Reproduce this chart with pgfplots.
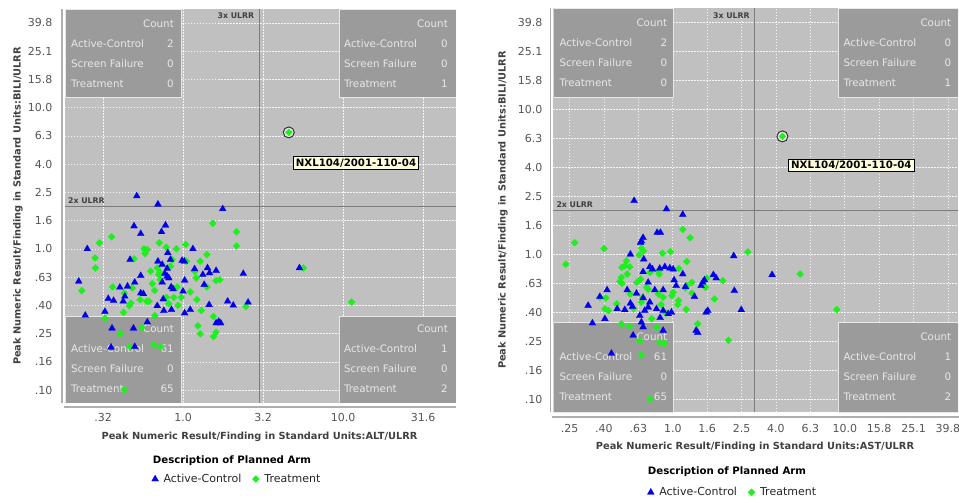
\documentclass[border=0pt]{standalone}
\usepackage{pgfplots}
\pgfplotsset{compat=1.18}
\usepackage{pgfplotstable}
\usepackage{fontspec}
\setmainfont{DejaVu Sans}
\definecolor{plotbg}{RGB}{192,192,192}
\definecolor{boxbg}{RGB}{155,155,155}
\definecolor{boxline}{RGB}{232,232,232}
\definecolor{acblue}{RGB}{0,0,235}
\definecolor{trgreen}{RGB}{30,240,30}
\definecolor{refl}{RGB}{125,125,125}
\definecolor{ticktext}{RGB}{85,85,85}
\definecolor{boxtext}{RGB}{232,232,232}
\definecolor{axl}{RGB}{175,175,175}
\definecolor{tipbg}{RGB}{255,255,222}

% ---------- data: left panel (ALT vs BILI) ----------
\pgfplotstableread{
x y
0.514 2.37
0.697 2.07
1.77 1.92
0.494 1.45
0.544 1.28
0.777 1.47
0.734 1.32
0.252 1.00
0.467 0.840
0.697 0.817
0.741 0.774
0.803 0.937
0.835 0.840
0.986 0.826
1.019 0.817
1.153 1.00
0.223 0.589
0.544 0.646
0.499 0.579
0.403 0.534
0.450 0.543
0.544 0.486
0.565 0.481
0.341 0.444
0.368 0.430
0.433 0.461
0.423 0.425
0.325 0.360
0.598 0.303
0.690 0.395
0.752 0.441
0.759 0.365
0.847 0.371
0.769 0.668
0.796 0.640
0.815 0.622
0.741 0.579
0.843 0.537
0.867 0.520
1.024 0.599
1.000 0.500
1.024 0.351
1.109 0.371
1.181 0.721
1.330 0.657
1.356 0.558
1.422 0.733
1.463 0.675
1.610 0.701
1.456 0.402
1.610 0.298
1.671 0.306
1.720 0.298
1.90 0.425
2.06 0.398
2.38 0.668
2.55 0.418
0.245 0.338
0.360 0.274
0.490 0.274
0.355 0.201
0.499 0.203
5.34 0.733
0.796 0.725
}\leftAC
\pgfplotstableread{
x y
0.300 1.103
0.358 1.217
0.282 0.863
0.2835 0.733
0.233 0.506
0.494 0.849
0.570 1.00
0.598 0.989
0.579 0.927
0.710 1.103
0.785 1.028
0.909 1.00
1.039 1.074
1.409 0.911
1.534 1.514
2.16 1.32
2.16 1.05
0.690 0.733
0.717 0.682
0.627 0.694
0.724 0.605
0.363 0.537
0.429 0.486
0.472 0.413
0.461 0.395
0.593 0.425
0.613 0.425
0.664 0.508
0.788 0.453
0.875 0.453
0.931 0.398
0.976 0.453
1.109 0.495
1.210 0.622
1.30 0.366
1.409 0.537
1.610 0.596
1.70 0.605
1.549 0.332
1.239 0.285
1.28 0.250
1.549 0.239
1.610 0.257
0.325 0.323
0.405 0.250
0.425 0.355
0.552 0.277
0.667 0.336
0.658 0.209
0.724 0.203
0.429 0.100
2.47 0.391
5.65 0.733
11.3 0.420
0.855 0.840
1.049 0.817
0.467 0.203
1.186 0.694
0.643 0.567
0.815 0.409
0.918 0.537
0.483 0.528
1.28 0.817
0.706 0.657
0.539 0.436
0.835 0.753
1.22 0.436
}\leftTR
% ---------- data: right panel (AST vs BILI) ----------
\pgfplotstableread{
x y
0.596 2.34
0.919 2.05
1.143 1.88
0.811 1.41
0.848 1.41
0.672 1.30
0.657 1.234
0.649 1.202
0.567 1.00
0.678 0.924
0.735 0.819
0.762 0.789
0.840 0.798
0.899 0.819
0.961 0.802
1.005 0.789
0.672 0.757
0.719 0.640
0.415 0.567
0.377 0.510
0.543 0.567
0.615 0.538
0.786 0.567
0.879 0.567
1.018 0.664
0.672 0.500
1.143 0.730
1.046 0.607
2.26 0.974
1.723 0.722
1.787 0.685
1.528 0.664
1.494 0.640
1.461 0.607
1.336 0.510
2.28 0.561
3.78 0.722
1.598 0.409
1.563 0.398
2.50 0.414
1.367 0.298
1.397 0.288
0.322 0.443
0.341 0.335
0.403 0.359
0.475 0.420
0.526 0.414
0.583 0.436
0.567 0.459
0.687 0.409
0.643 0.378
0.719 0.431
0.735 0.467
0.804 0.420
0.879 0.409
0.940 0.388
0.982 0.398
0.657 0.340
0.672 0.315
0.588 0.276
0.879 0.298
0.440 0.207
0.844 0.365
1.185 0.597
}\rightAC
\pgfplotstableread{
x y
0.269 1.202
0.399 1.094
0.239 0.854
0.657 1.099
0.637 0.989
0.871 1.016
0.969 1.043
0.538 0.900
0.526 0.832
0.562 0.819
0.543 0.730
0.503 0.692
0.492 0.650
0.507 0.630
0.649 0.674
0.833 0.730
0.719 0.575
0.377 0.505
0.408 0.500
1.005 0.546
0.879 0.505
1.143 1.483
1.261 1.30
2.73 1.037
1.206 0.891
1.084 0.798
1.577 0.685
1.953 0.657
1.206 0.607
1.185 0.585
1.295 0.538
1.549 0.591
1.746 0.492
5.50 0.730
1.195 0.416
1.069 0.450
1.397 0.331
2.107 0.255
0.403 0.420
0.503 0.331
0.562 0.318
0.657 0.201
0.735 0.100
0.840 0.248
0.899 0.242
0.643 0.252
8.98 0.416
0.855 0.450
0.915 0.392
0.755 0.359
0.667 0.505
0.655 0.467
0.591 0.420
0.706 0.591
0.825 0.532
0.987 0.518
1.079 0.479
0.565 0.532
0.472 0.455
0.505 0.811
0.675 1.054
0.825 0.769
0.738 0.749
1.29 0.640
0.807 0.315
0.618 0.640
0.423 0.409
}\rightTR

\tikzset{cbt/.style={font=\fontsize{10.3}{12}\selectfont, text=boxtext, inner sep=0pt}}

\newcommand{\cboxrows}[7]{%
  \node[cbt, anchor=base east] at ([xshift=#3pt,yshift=#4pt]#1) {Count};
  \node[cbt, anchor=base west] at ([xshift=#2pt,yshift=#4pt-20pt]#1) {Active-Control};
  \node[cbt, anchor=base east] at ([xshift=#3pt,yshift=#4pt-20pt]#1) {#5};
  \node[cbt, anchor=base west] at ([xshift=#2pt,yshift=#4pt-40pt]#1) {Screen Failure};
  \node[cbt, anchor=base east] at ([xshift=#3pt,yshift=#4pt-40pt]#1) {#6};
  \node[cbt, anchor=base west] at ([xshift=#2pt,yshift=#4pt-60pt]#1) {Treatment};
  \node[cbt, anchor=base east] at ([xshift=#3pt,yshift=#4pt-60pt]#1) {#7};
}

\pgfplotsset{
  mypanel/.style={
    scale only axis, anchor=south west,
    axis background/.style={fill=plotbg},
    axis line style={draw=none},
    major tick style={draw=none}, minor tick style={draw=none},
    grid=major,
    major grid style={draw=white!93!gray, dash pattern=on 1.5pt off 1.5pt, line width=0.6pt},
    ytick={0.1,0.158489,0.251189,0.398107,0.630957,1,1.584893,2.511886,3.981072,6.309573,10,15.848932,25.118864,39.810717},
    yticklabels={.10,.16,.25,.40,.63,1.0,1.6,2.5,4.0,6.3,10.0,15.8,25.1,39.8},
    ticklabel style={font=\fontsize{11}{13}\selectfont, text=ticktext},
    legend style={draw=none, fill=none, legend columns=2,
      font=\fontsize{11}{13}\selectfont, text=black!85,
      /tikz/every odd column/.append style={column sep=3pt},
      /tikz/every even column/.append style={column sep=9pt}},
    reverse legend,
    legend cell align=left,
  },
  acmark/.style={only marks, mark=triangle*, mark size=4pt, mark options={draw=acblue, fill=acblue, line width=0.2pt}},
  trmark/.style={only marks, mark=square*, mark size=2.5pt, mark options={rotate=45, draw=trgreen, fill=trgreen, line width=0.2pt}},
}

\begin{document}
\begin{tikzpicture}
\useasboundingbox (0,0) rectangle (959pt,500pt);

% ================= LEFT PANEL =================
\begin{axis}[xmode=log, ymode=log, mypanel,
  at={(65pt,97pt)}, width=391pt, height=394pt,
  xmin=0.183, xmax=50.8, ymin=0.081, ymax=50,
  xtick={0.316228,1,3.162278,10,31.622777},
  xticklabels={.32,1.0,3.2,10.0,31.6},
  yticklabel style={xshift=-9pt},
  xticklabel style={yshift=-7pt},
  legend style={at={(0.44,-0.193)}, anchor=center},
]
  \fill[boxbg, draw=boxline, line width=0.8pt] (rel axis cs:0,1) rectangle ([xshift=116pt,yshift=-88pt]rel axis cs:0,1);
  \fill[boxbg, draw=boxline, line width=0.8pt] (rel axis cs:1,1) rectangle ([xshift=-117pt,yshift=-88pt]rel axis cs:1,1);
  \fill[boxbg, draw=boxline, line width=0.8pt] (rel axis cs:0,0) rectangle ([xshift=116pt,yshift=87pt]rel axis cs:0,0);
  \fill[boxbg, draw=boxline, line width=0.8pt] (rel axis cs:1,0) rectangle ([xshift=-117pt,yshift=87pt]rel axis cs:1,0);
  \cboxrows{rel axis cs:0,1}{6}{109}{-18.5}{2}{0}{0}
  \cboxrows{rel axis cs:1,1}{-112}{-8}{-18.5}{0}{0}{1}
  \cboxrows{rel axis cs:0,0}{6}{109}{70.5}{61}{0}{65}
  \cboxrows{rel axis cs:1,0}{-112}{-8}{70.5}{1}{0}{2}
  \draw[refl, line width=1.2pt] (axis cs:3,0.081) -- (axis cs:3,50);
  \draw[refl, line width=1.2pt] (axis cs:0.183,2) -- (axis cs:50.8,2);
  \node[anchor=north east, font=\bfseries\fontsize{7.8}{9}\selectfont, text=black!75, inner sep=0pt] at ([xshift=-5pt,yshift=-4pt]axis cs:3,50) {3x ULRR};
  \node[anchor=south west, font=\bfseries\fontsize{7.8}{9}\selectfont, text=black!75, inner sep=0pt] at ([xshift=3pt,yshift=3pt]axis cs:0.183,2) {2x ULRR};
  \addplot[trmark] table {\leftTR};
  \addlegendentry{Treatment}
  \addplot[acmark] table {\leftAC};
  \addlegendentry{Active-Control}
  \addplot[forget plot, only marks, mark=*, mark size=5.5pt, mark options={fill=white!80!gray, draw=black!80, line width=1pt}] coordinates {(4.58,6.68)};
  \addplot[forget plot, trmark] coordinates {(4.58,6.68)};
  \node[draw=black, line width=0.8pt, fill=tipbg, font=\bfseries\fontsize{10.2}{12}\selectfont, inner xsep=2.5pt, inner ysep=2pt, anchor=center] at ([xshift=291pt,yshift=-154pt]rel axis cs:0,1) {NXL104/2001-110-04};
\end{axis}

% ================= RIGHT PANEL =================
\begin{axis}[xmode=log, ymode=log, mypanel,
  at={(553.3pt,87.7pt)}, width=405pt, height=404pt,
  xmin=0.202, xmax=45.7, ymin=0.0813, ymax=49.7,
  xtick={0.251189,0.398107,0.630957,1,1.584893,2.511886,3.981072,6.309573,10,15.848932,25.118864,39.810717},
  xticklabels={.25,.40,.63,1.0,1.6,2.5,4.0,6.3,10.0,15.8,25.1,39.8},
  yticklabel style={xshift=-7.5pt},
  xticklabel style={yshift=-9pt},
  legend style={at={(0.443,-0.198)}, anchor=center},
]
  \fill[boxbg, draw=boxline, line width=0.8pt] (rel axis cs:0,1) rectangle ([xshift=120pt,yshift=-89pt]rel axis cs:0,1);
  \fill[boxbg, draw=boxline, line width=0.8pt] (rel axis cs:1,1) rectangle ([xshift=-120pt,yshift=-89pt]rel axis cs:1,1);
  \fill[boxbg, draw=boxline, line width=0.8pt] (rel axis cs:0,0) rectangle ([xshift=120pt,yshift=90pt]rel axis cs:0,0);
  \fill[boxbg, draw=boxline, line width=0.8pt] (rel axis cs:1,0) rectangle ([xshift=-120pt,yshift=90pt]rel axis cs:1,0);
  \cboxrows{rel axis cs:0,1}{6}{114}{-18.5}{2}{0}{0}
  \cboxrows{rel axis cs:1,1}{-115}{-7}{-18.5}{0}{0}{1}
  \cboxrows{rel axis cs:0,0}{6}{114}{71.5}{61}{0}{65}
  \cboxrows{rel axis cs:1,0}{-115}{-7}{71.5}{1}{0}{2}
  \draw[refl, line width=1.2pt] (axis cs:3,0.0813) -- (axis cs:3,49.7);
  \draw[refl, line width=1.2pt] (axis cs:0.202,2) -- (axis cs:45.7,2);
  \node[anchor=north east, font=\bfseries\fontsize{7.8}{9}\selectfont, text=black!75, inner sep=0pt] at ([xshift=-5pt,yshift=-4pt]axis cs:3,49.7) {3x ULRR};
  \node[anchor=south west, font=\bfseries\fontsize{7.8}{9}\selectfont, text=black!75, inner sep=0pt] at ([xshift=3pt,yshift=3pt]axis cs:0.202,2) {2x ULRR};
  \addplot[trmark] table {\rightTR};
  \addlegendentry{Treatment}
  \addplot[acmark] table {\rightAC};
  \addlegendentry{Active-Control}
  \addplot[forget plot, only marks, mark=*, mark size=5.5pt, mark options={fill=white!80!gray, draw=black!80, line width=1pt}] coordinates {(4.34,6.5)};
  \addplot[forget plot, trmark] coordinates {(4.34,6.5)};
  \node[draw=black, line width=0.8pt, fill=tipbg, font=\bfseries\fontsize{10.2}{12}\selectfont, inner xsep=2.5pt, inner ysep=2pt, anchor=center] at ([xshift=298pt,yshift=-157pt]rel axis cs:0,1) {NXL104/2001-110-04};
\end{axis}

\draw[axl, line width=1.3pt] (64pt,93pt) -- (456pt,93pt);
\draw[axl, line width=1.3pt] (62pt,97pt) -- (62pt,491pt);
\draw[axl, line width=1.3pt] (552pt,83pt) -- (959pt,83pt);
\draw[axl, line width=1.3pt] (550.5pt,87.7pt) -- (550.5pt,491.7pt);

\node[font=\bfseries\fontsize{9.8}{12}\selectfont, text=black!75] at (259.5pt,63pt) {Peak Numeric Result/Finding in Standard Units:ALT/ULRR};
\node[font=\bfseries\fontsize{9.8}{12}\selectfont, text=black!75, rotate=90] at (18pt,294pt) {Peak Numeric Result/Finding in Standard Units:BILI/ULRR};
\node[font=\bfseries\fontsize{10.2}{12}\selectfont] at (232pt,39pt) {Description of Planned Arm};

\node[font=\bfseries\fontsize{9.8}{12}\selectfont, text=black!75] at (755pt,53pt) {Peak Numeric Result/Finding in Standard Units:AST/ULRR};
\node[font=\bfseries\fontsize{9.8}{12}\selectfont, text=black!75, rotate=90] at (503pt,290pt) {Peak Numeric Result/Finding in Standard Units:BILI/ULRR};
\node[font=\bfseries\fontsize{10.2}{12}\selectfont] at (727pt,28pt) {Description of Planned Arm};
\end{tikzpicture}
\end{document}
